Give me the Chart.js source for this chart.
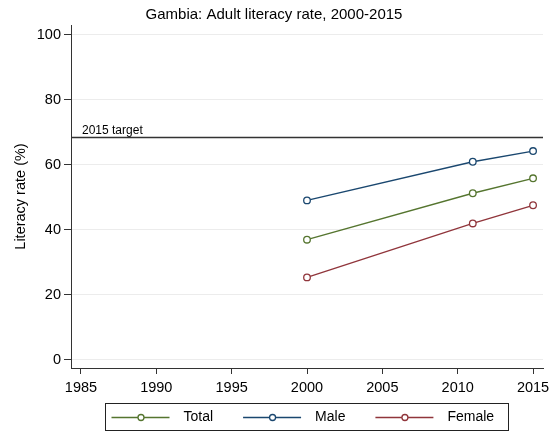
<!DOCTYPE html>
<html lang="en">
<head>
<meta charset="UTF-8">
<title>Gambia: Adult literacy rate</title>
<style>
  html, body { margin: 0; padding: 0; background: #fff; }
  #wrap { width: 557px; height: 433px; }
</style>
</head>
<body>
<div id="wrap"><canvas id="myChart" width="557" height="433"></canvas></div>
<script src="https://cdn.jsdelivr.net/npm/chart.js"></script>
<script>
// data
const years = [2000, 2011, 2015];
const totalRate = [36.9, 51.2, 55.8];
const maleRate = [49.0, 60.9, 64.2];
const femaleRate = [25.3, 41.9, 47.5];
const targetRate = 68.5;
const targetLabel = '2015 target';
const seriesNames = ['Total', 'Male', 'Female'];
const seriesColors = ['rgb(85,117,47)', 'rgb(26,71,111)', 'rgb(144,53,59)'];
const xTicks = [1985, 1990, 1995, 2000, 2005, 2010, 2015];
const yTicks = [0, 20, 40, 60, 80, 100];
const chartTitle = 'Gambia: Adult literacy rate, 2000-2015';
const yTitle = 'Literacy rate (%)';

const FONT = '"Liberation Sans", Arial, sans-serif';
const AXIS = '#333';

function toPoints(vals) {
    return years.map((yr, i) => ({ x: yr, y: vals[i] }));
}

const allSeries = [totalRate, maleRate, femaleRate];
const datasets = allSeries.map((vals, i) => ({
    label: seriesNames[i],
    data: toPoints(vals),
    borderColor: seriesColors[i],
    borderWidth: 1.3,
    pointRadius: 3.3,
    pointBorderWidth: 1.3,
    pointBorderColor: seriesColors[i],
    pointBackgroundColor: '#fff',
    tension: 0
}));

// title, target line and the boxed legend
const extras = {
    id: 'extras',
    afterDraw(chart) {
        const ctx = chart.ctx;
        const area = chart.chartArea;
        const ys = chart.scales.y;
        ctx.save();

        // title
        ctx.fillStyle = '#000';
        ctx.font = '15px ' + FONT;
        ctx.textAlign = 'center';
        ctx.textBaseline = 'middle';
        ctx.fillText(chartTitle, 274, 15);

        // target line
        const ty = Math.round(ys.getPixelForValue(targetRate)) + 0.5;
        ctx.strokeStyle = '#333';
        ctx.lineWidth = 1.6;
        ctx.beginPath();
        ctx.moveTo(area.left, ty);
        ctx.lineTo(area.right, ty);
        ctx.stroke();
        ctx.fillStyle = '#000';
        ctx.font = '12px ' + FONT;
        ctx.textAlign = 'left';
        ctx.textBaseline = 'bottom';
        ctx.fillText(targetLabel, area.left + 11, ty - 0.5);

        // legend
        ctx.strokeStyle = '#222';
        ctx.lineWidth = 1;
        ctx.strokeRect(105.5, 403.5, 403, 27);
        ctx.font = '14px ' + FONT;
        ctx.textBaseline = 'middle';
        let x = 111.5;
        const ly = 417.5;
        seriesNames.forEach(function (name, i) {
            ctx.strokeStyle = seriesColors[i];
            ctx.lineWidth = 1.3;
            ctx.beginPath();
            ctx.moveTo(x, ly);
            ctx.lineTo(x + 58, ly);
            ctx.stroke();
            ctx.fillStyle = '#fff';
            ctx.beginPath();
            ctx.arc(x + 29.5, ly, 3, 0, Math.PI * 2);
            ctx.fill();
            ctx.stroke();
            ctx.fillStyle = '#000';
            ctx.fillText(name, x + 72, ly);
            x += 72 + ctx.measureText(name).width + 30;
        });
        ctx.restore();
    }
};

const ctx = document.getElementById('myChart');
const mychart = new Chart(ctx, {
    type: 'line',
    data: { datasets: datasets },
    plugins: [extras],
    options: {
        responsive: false,
        animation: false,
        devicePixelRatio: 1,
        layout: { padding: { top: 25, right: 14, left: 0, bottom: 0 } },
        plugins: {
            legend: { display: false },
            title: { display: false },
            tooltip: { enabled: false }
        },
        scales: {
            x: {
                type: 'linear',
                min: 1984.34,
                max: 2015.66,
                afterFit: function (s) { s.height = 65; },
                afterBuildTicks: function (s) { s.ticks = xTicks.map(v => ({ value: v })); },
                border: { display: true, color: AXIS, width: 1 },
                grid: { drawOnChartArea: false, drawTicks: true, tickLength: 6, tickColor: AXIS },
                ticks: { color: '#000', padding: 5, maxRotation: 0, autoSkip: false,
                    font: { family: FONT, size: 14.5 },
                    callback: v => String(v) }
            },
            y: {
                type: 'linear',
                min: -2.6,
                max: 103,
                afterFit: function (s) { s.width = 71; },
                afterBuildTicks: function (s) { s.ticks = yTicks.map(v => ({ value: v })); },
                border: { display: true, color: AXIS, width: 1 },
                grid: { color: '#ececec', lineWidth: 1, drawTicks: true, tickLength: 7, tickColor: AXIS },
                ticks: { color: '#000', padding: 3, font: { family: FONT, size: 14.5 } },
                title: { display: true, text: yTitle, color: '#000',
                    font: { family: FONT, size: 14.5 }, padding: { top: 12, bottom: 0 } }
            }
        }
    }
});
</script>
</body>
</html>
